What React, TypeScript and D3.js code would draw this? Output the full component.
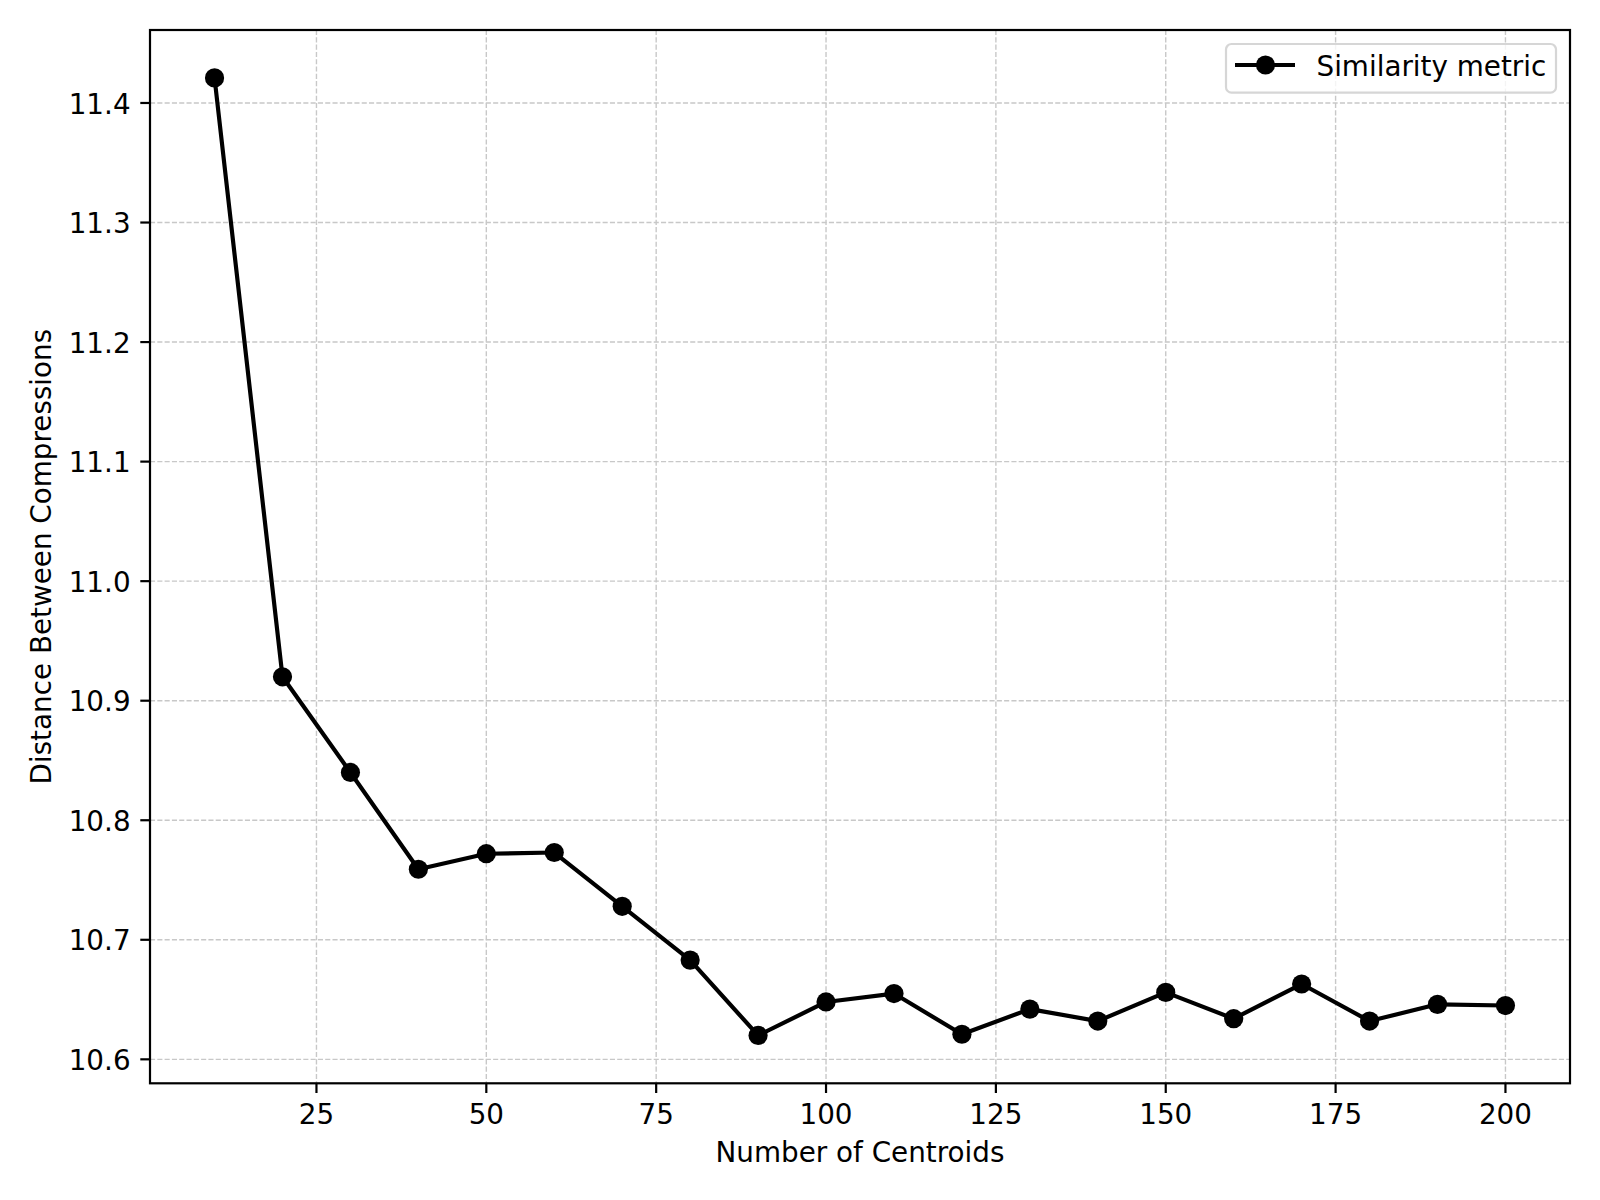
import React, { useEffect, useRef } from 'react';
import * as d3 from 'd3';

// number of centroids on x, distance between compressions on y
const centroids = [10, 20, 30, 40, 50, 60, 70, 80, 90, 100, 110, 120, 130, 140, 150, 160, 170, 180, 190, 200];
const distances = [
  11.421, 10.920, 10.840, 10.759, 10.772, 10.773, 10.728, 10.683, 10.620, 10.648,
  10.655, 10.621, 10.642, 10.632, 10.656, 10.634, 10.663, 10.632, 10.646, 10.645,
];
const xTicks = [25, 50, 75, 100, 125, 150, 175, 200];
const yTicks = [10.6, 10.7, 10.8, 10.9, 11.0, 11.1, 11.2, 11.3, 11.4];
const seriesName = 'Similarity metric';
const xLabel = 'Number of Centroids';
const yLabel = 'Distance Between Compressions';

const width = 1600;
const height = 1200;

const App = () => {
  const svgRef = useRef(null);

  useEffect(() => {
    const svg = d3.select(svgRef.current);
    svg.selectAll('*').remove();

    const margin = { top: 30, right: 30, bottom: 116.7, left: 150 };
    const x0 = margin.left;
    const x1 = width - margin.right;
    const y0 = margin.top;
    const y1 = height - margin.bottom;
    const font = '"DejaVu Sans", sans-serif';
    const fs = 27.8;
    const markerR = 9.6;

    // matplotlib style 5% padding
    const [xmin, xmax] = d3.extent(centroids);
    const xpad = (xmax - xmin) * 0.05;
    const [ymin, ymax] = d3.extent(distances);
    const ypad = (ymax - ymin) * 0.05;

    const xScale = d3.scaleLinear().domain([xmin - xpad, xmax + xpad]).range([x0, x1]);
    const yScale = d3.scaleLinear().domain([ymin - ypad, ymax + ypad]).range([y1, y0]);

    svg.append('rect').attr('width', width).attr('height', height).attr('fill', 'white');

    // grid
    const grid = svg.append('g')
      .attr('stroke', '#c8c8c8')
      .attr('stroke-width', 1.4)
      .attr('stroke-dasharray', '5.1,2.2');
    grid.selectAll('.gx')
      .data(xTicks)
      .enter()
      .append('line')
      .attr('x1', d => xScale(d))
      .attr('x2', d => xScale(d))
      .attr('y1', y0)
      .attr('y2', y1);
    grid.selectAll('.gy')
      .data(yTicks)
      .enter()
      .append('line')
      .attr('x1', x0)
      .attr('x2', x1)
      .attr('y1', d => yScale(d))
      .attr('y2', d => yScale(d));

    // line + markers
    const pts = centroids.map((c, i) => [c, distances[i]]);
    const line = d3.line()
      .x(d => xScale(d[0]))
      .y(d => yScale(d[1]));
    svg.append('path')
      .datum(pts)
      .attr('d', line)
      .attr('fill', 'none')
      .attr('stroke', 'black')
      .attr('stroke-width', 4.17)
      .attr('stroke-linejoin', 'round');
    svg.selectAll('.pt')
      .data(pts)
      .enter()
      .append('circle')
      .attr('cx', d => xScale(d[0]))
      .attr('cy', d => yScale(d[1]))
      .attr('r', markerR)
      .attr('fill', 'black');

    // frame
    svg.append('rect')
      .attr('x', x0)
      .attr('y', y0)
      .attr('width', x1 - x0)
      .attr('height', y1 - y0)
      .attr('fill', 'none')
      .attr('stroke', 'black')
      .attr('stroke-width', 2.2);

    // x ticks
    const xt = svg.append('g');
    xt.selectAll('line')
      .data(xTicks)
      .enter()
      .append('line')
      .attr('x1', d => xScale(d))
      .attr('x2', d => xScale(d))
      .attr('y1', y1)
      .attr('y2', y1 + 9.7)
      .attr('stroke', 'black')
      .attr('stroke-width', 2.2);
    xt.selectAll('text')
      .data(xTicks)
      .enter()
      .append('text')
      .attr('x', d => xScale(d))
      .attr('y', 1124)
      .attr('text-anchor', 'middle')
      .attr('font-family', font)
      .attr('font-size', fs)
      .text(d => d);

    // y ticks
    const yt = svg.append('g');
    yt.selectAll('line')
      .data(yTicks)
      .enter()
      .append('line')
      .attr('x1', x0 - 9.7)
      .attr('x2', x0)
      .attr('y1', d => yScale(d))
      .attr('y2', d => yScale(d))
      .attr('stroke', 'black')
      .attr('stroke-width', 2.2);
    yt.selectAll('text')
      .data(yTicks)
      .enter()
      .append('text')
      .attr('x', x0 - 19.4)
      .attr('y', d => yScale(d) + 10.6)
      .attr('text-anchor', 'end')
      .attr('font-family', font)
      .attr('font-size', fs)
      .text(d => d3.format('.1f')(d));

    // axis labels
    svg.append('text')
      .attr('x', (x0 + x1) / 2)
      .attr('y', 1161.5)
      .attr('text-anchor', 'middle')
      .attr('font-family', font)
      .attr('font-size', fs)
      .text(xLabel);

    svg.append('text')
      .attr('transform', `translate(51, ${(y0 + y1) / 2}) rotate(-90)`)
      .attr('text-anchor', 'middle')
      .attr('font-family', font)
      .attr('font-size', fs)
      .text(yLabel);

    // legend
    const lg = svg.append('g');
    lg.append('rect')
      .attr('x', 1226)
      .attr('y', 44)
      .attr('width', 330)
      .attr('height', 48.7)
      .attr('rx', 5.5)
      .attr('fill', 'white')
      .attr('fill-opacity', 0.8)
      .attr('stroke', '#d6d6d6')
      .attr('stroke-width', 2.2);
    lg.append('line')
      .attr('x1', 1235)
      .attr('x2', 1295)
      .attr('y1', 65)
      .attr('y2', 65)
      .attr('stroke', 'black')
      .attr('stroke-width', 4.17);
    lg.append('circle')
      .attr('cx', 1265.5)
      .attr('cy', 65)
      .attr('r', markerR)
      .attr('fill', 'black');
    lg.append('text')
      .attr('x', 1316.5)
      .attr('y', 76)
      .attr('font-family', font)
      .attr('font-size', fs)
      .text(seriesName);
  }, []);

  return (
    <>
      <style>{'body{margin:0}'}</style>
      <svg ref={svgRef} width={width} height={height} style={{ display: 'block' }} />
    </>
  );
};

export default App;
